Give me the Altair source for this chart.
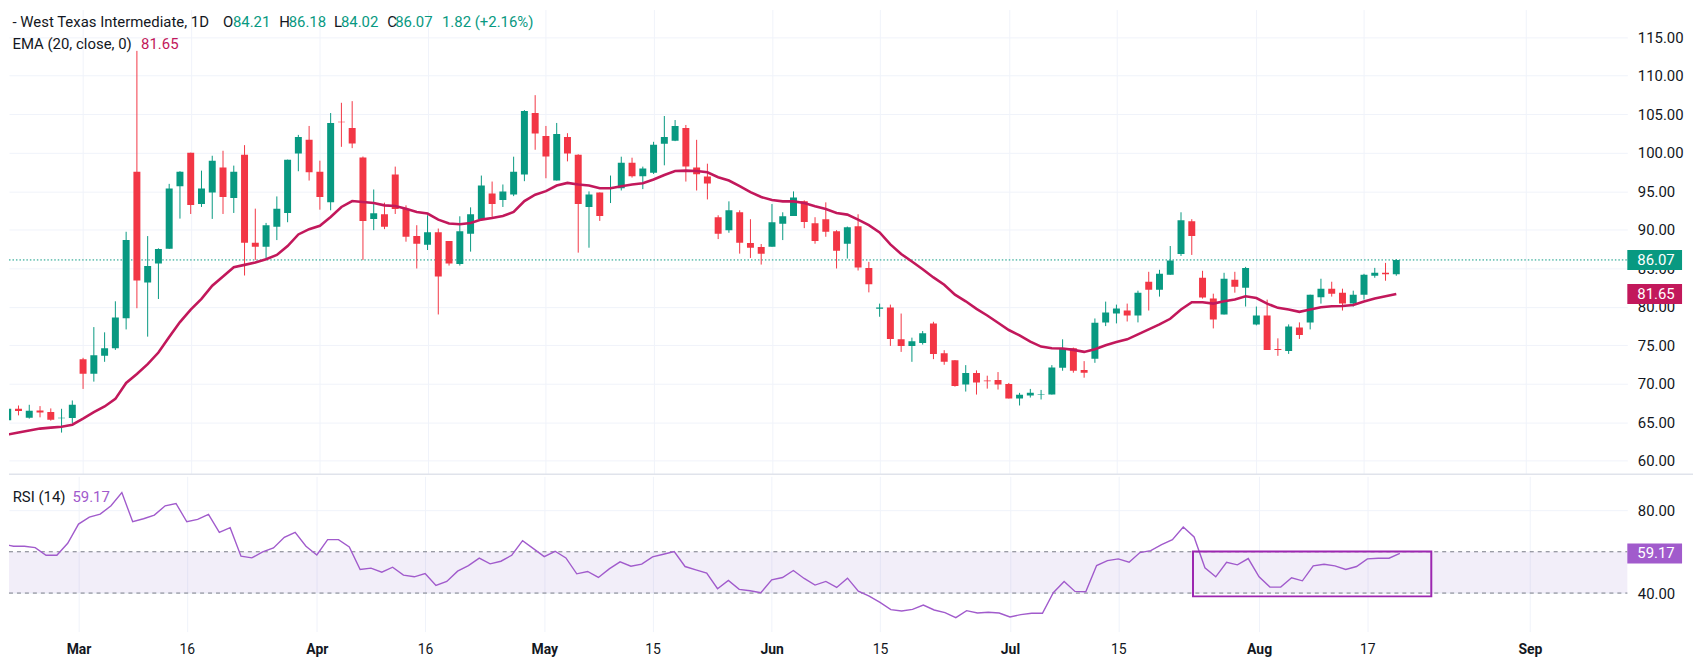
import altair as alt
import pandas as pd

# ---------------- data ----------------
opens = [65.24, 66.74, 65.58, 66.53, 66.31, 65.50, 65.54, 73.19, 71.30, 73.62,
         74.60, 78.51, 97.54, 83.15, 85.60, 87.53, 95.65, 99.99, 93.33, 94.84,
         98.06, 94.11, 99.73, 88.31, 87.79, 90.37, 92.17, 99.91, 101.67, 97.54,
         93.55, 104.03, 103.21, 99.39, 91.40, 92.00, 97.16, 92.69, 89.17, 88.05,
         89.68, 88.52, 85.56, 89.47, 91.40, 94.71, 93.85, 94.58, 97.16, 105.15,
         102.18, 96.38, 102.05, 99.73, 92.95, 94.84, 95.31, 95.39, 98.70, 96.94,
         97.41, 101.15, 101.54, 103.21, 98.06, 96.90, 91.62, 89.94, 92.26, 88.26,
         87.75, 87.79, 90.76, 91.79, 93.68, 90.84, 91.36, 89.81, 88.18, 90.46,
         85.04, 79.72, 79.89, 75.76, 74.91, 75.29, 77.83, 73.96, 73.06, 69.88,
         71.38, 70.40, 70.49, 69.97, 68.08, 68.46, 68.55, 68.59, 72.07, 74.60,
         71.77, 73.23, 77.96, 79.11, 79.50, 78.86, 83.24, 82.21, 84.14, 86.85,
         91.10, 83.76, 81.05, 78.99, 83.50, 82.47, 77.70, 78.86, 74.52, 74.26,
         77.31, 77.96, 81.22, 82.34, 81.82, 80.40, 81.56, 84.01, 84.40, 84.21]
highs = [66.90, 67.17, 67.26, 67.09, 66.79, 66.74, 67.82, 73.36, 77.35, 76.67,
         80.70, 89.73, 113.22, 89.17, 87.58, 95.95, 97.60, 100.00, 97.67, 99.60,
         100.25, 98.32, 100.98, 92.73, 90.88, 94.32, 99.10, 102.31, 103.47, 98.96,
         105.15, 106.48, 106.69, 99.50, 95.22, 93.51, 98.19, 93.16, 90.58, 91.87,
         90.15, 88.52, 91.74, 92.90, 97.03, 96.25, 95.87, 99.48, 105.53, 107.47,
         103.47, 103.86, 102.53, 99.80, 94.97, 94.84, 97.03, 99.48, 99.35, 98.19,
         101.41, 104.76, 104.24, 103.60, 101.67, 98.57, 91.87, 93.68, 92.52, 91.36,
         88.14, 93.33, 92.26, 94.97, 93.81, 91.62, 93.55, 89.94, 90.41, 92.00,
         85.82, 80.40, 80.27, 79.11, 75.98, 76.84, 78.04, 74.35, 73.06, 72.41,
         71.73, 71.04, 71.51, 70.10, 68.81, 69.32, 69.19, 72.41, 75.76, 74.69,
         72.93, 78.47, 80.66, 80.27, 80.40, 82.08, 84.53, 84.79, 87.88, 92.26,
         91.36, 84.66, 81.69, 84.40, 84.53, 85.17, 80.02, 80.92, 75.89, 77.70,
         77.96, 81.56, 83.63, 83.24, 82.34, 82.08, 84.27, 85.04, 85.69, 86.18]
lows = [65.10, 65.89, 65.46, 65.63, 65.20, 63.65, 64.90, 69.32, 70.27, 72.84,
        74.39, 77.05, 79.80, 76.11, 81.00, 87.50, 91.44, 92.04, 92.95, 91.40,
        92.04, 92.17, 84.05, 86.07, 86.16, 88.65, 90.97, 97.59, 96.38, 92.60,
        92.52, 100.76, 100.59, 86.07, 89.94, 90.07, 92.04, 88.44, 84.96, 87.36,
        78.99, 85.34, 85.34, 87.15, 91.23, 91.57, 92.95, 94.36, 96.30, 100.38,
        96.68, 96.38, 98.87, 87.02, 87.66, 91.14, 93.46, 95.09, 96.77, 95.27,
        97.24, 98.36, 101.50, 96.25, 95.09, 93.93, 88.78, 89.60, 86.89, 86.33,
        85.47, 87.79, 88.65, 91.79, 90.20, 88.18, 89.08, 84.96, 86.25, 84.70,
        81.86, 78.69, 74.91, 74.13, 72.84, 75.08, 73.19, 72.46, 69.62, 68.98,
        68.59, 69.36, 69.24, 68.08, 67.17, 68.20, 67.95, 68.59, 71.68, 71.43,
        70.78, 72.71, 77.48, 77.83, 78.08, 77.96, 79.50, 81.31, 84.14, 86.59,
        86.72, 81.05, 77.18, 78.99, 81.82, 80.02, 77.57, 74.39, 73.62, 73.87,
        75.81, 77.05, 80.40, 81.31, 79.50, 80.02, 80.92, 83.76, 83.37, 84.02]
closes = [66.74, 66.44, 66.49, 66.27, 65.33, 65.58, 67.26, 71.30, 73.70, 74.60,
          78.60, 88.65, 83.41, 85.30, 87.49, 95.35, 97.54, 93.20, 95.35, 98.96,
          94.24, 97.54, 88.31, 87.79, 90.58, 92.73, 99.09, 102.05, 97.46, 94.24,
          103.86, 103.94, 101.19, 91.14, 92.13, 90.37, 92.69, 89.08, 88.18, 89.68,
          83.93, 85.60, 89.81, 92.00, 95.74, 93.33, 94.97, 97.54, 105.40, 102.48,
          99.52, 102.44, 99.91, 93.33, 94.58, 91.79, 95.44, 98.70, 96.94, 97.93,
          101.02, 102.05, 103.47, 98.19, 97.20, 96.00, 89.47, 92.52, 88.31, 87.66,
          86.89, 90.97, 91.74, 94.19, 91.01, 88.52, 89.73, 87.28, 90.33, 85.09,
          82.90, 79.89, 75.81, 74.91, 75.51, 76.54, 73.87, 72.84, 69.71, 71.38,
          70.14, 70.31, 69.88, 68.08, 68.55, 68.81, 68.63, 72.11, 74.60, 71.68,
          71.43, 77.91, 79.24, 79.76, 78.86, 81.82, 82.21, 84.27, 85.99, 91.23,
          89.17, 81.18, 78.34, 83.63, 82.60, 85.04, 78.86, 74.39, 74.39, 77.44,
          76.32, 81.56, 82.34, 81.69, 80.40, 81.56, 84.14, 84.40, 84.21, 86.07]
ema20 = [63.39, 63.65, 63.91, 64.17, 64.30, 64.42, 64.68, 65.46, 66.31, 67.04,
         68.03, 70.09, 71.25, 72.54, 74.05, 76.07, 78.00, 79.63, 81.01, 82.72,
         83.93, 85.13, 85.43, 85.73, 86.16, 86.72, 87.88, 89.38, 90.07, 90.50,
         91.66, 92.95, 93.72, 93.59, 93.46, 93.16, 93.08, 92.73, 92.30, 92.09,
         91.31, 90.80, 90.71, 90.88, 91.31, 91.53, 91.79, 92.30, 93.72, 94.54,
         95.01, 95.74, 96.08, 95.87, 95.74, 95.39, 95.39, 95.65, 95.87, 96.04,
         96.51, 97.11, 97.63, 97.67, 97.63, 97.45, 96.81, 96.38, 95.65, 94.88,
         94.24, 93.85, 93.68, 93.68, 93.46, 93.03, 92.69, 92.17, 91.96, 91.31,
         90.58, 89.64, 88.09, 86.85, 85.86, 84.87, 83.80, 82.85, 81.56, 80.70,
         79.72, 78.86, 77.91, 76.97, 76.28, 75.46, 74.82, 74.60, 74.58, 74.39,
         74.13, 74.48, 74.99, 75.42, 75.76, 76.41, 77.05, 77.70, 78.43, 79.63,
         80.58, 80.58, 80.40, 80.70, 80.92, 81.35, 81.13, 80.40, 79.85, 79.63,
         79.33, 79.63, 79.93, 80.06, 80.10, 80.23, 80.66, 81.05, 81.35, 81.65]
rsi14 = [63.78, 62.65, 62.65, 62.00, 58.31, 58.31, 64.10, 73.41, 76.79, 78.23,
         82.25, 88.67, 74.54, 75.98, 77.75, 82.25, 83.37, 74.54, 75.66, 78.07,
         69.40, 71.65, 57.83, 57.03, 59.92, 61.85, 66.99, 69.40, 62.65, 58.47,
         65.86, 65.86, 62.33, 51.41, 52.05, 50.12, 52.53, 48.67, 47.87, 49.48,
         43.69, 45.62, 50.60, 53.30, 56.90, 54.14, 55.42, 58.31, 65.38, 61.53,
         57.67, 60.24, 57.03, 49.32, 50.44, 47.55, 51.73, 55.10, 53.01, 53.98,
         57.51, 58.80, 60.08, 52.85, 51.24, 49.64, 42.09, 46.10, 41.77, 41.12,
         40.16, 46.43, 47.55, 50.92, 47.07, 43.86, 45.62, 42.73, 47.23, 40.96,
         38.55, 35.50, 31.97, 31.33, 32.13, 34.22, 31.81, 30.50, 28.11, 31.49,
         30.36, 30.68, 30.36, 28.43, 29.56, 30.20, 30.20, 40.16, 45.62, 40.80,
         40.64, 53.33, 55.74, 56.55, 54.94, 59.60, 60.56, 63.45, 65.86, 71.97,
         67.15, 52.21, 47.87, 54.94, 53.65, 56.71, 47.87, 42.89, 42.89, 47.39,
         45.94, 53.17, 53.98, 53.17, 51.41, 52.85, 56.55, 56.87, 56.87, 59.17]

tick_idx = [8, 18, 30, 40, 51, 61, 72, 82, 94, 104, 117, 127, 142]
tick_lbl = ["Mar", "16", "Apr", "16", "May", "15", "Jun", "15", "Jul", "15", "Aug", "17", "Sep"]
month_idx = [8, 30, 51, 72, 94, 117, 142]
price_ticks = [60, 65, 70, 75, 80, 85, 90, 95, 100, 105, 110, 115]
rsi_ticks = [40, 80]
rsi_levels = [40, 60]
box_x = [110.9, 132.9]
box_y = [38.4, 60.1]

# ---------------- styling ----------------
FONT = "Roboto"
TXT = "#131722"
GREEN = "#089981"
RED = "#f23645"
EMA_C = "#c2185b"
RSI_C = "#a15bcc"
BOX_C = "#9c27b0"
GRID = "#f0f3fa"
W, H1, H2 = 1626, 467, 156
AX_FS = 15
HD_FS = 15

df = pd.DataFrame({"i": list(range(1, len(closes) + 1)), "o": opens, "h": highs,
                   "l": lows, "c": closes, "ema": ema20, "rsi": rsi14})

xscale = alt.Scale(domain=[1.58, 151.0], nice=False, zero=False)
yscale = alt.Scale(domain=[58.23, 118.59], nice=False, zero=False)
rscale = alt.Scale(domain=[21.35, 96.53], nice=False, zero=False)

xaxis_main = alt.Axis(values=tick_idx, labels=False, ticks=False, domain=False,
                      grid=True, gridColor=GRID, title=None)
label_expr = " : ".join([f"datum.value == {v} ? '{t}'" for v, t in zip(tick_idx, tick_lbl)]) + " : ''"
xaxis_rsi = alt.Axis(values=tick_idx, labelExpr=label_expr, ticks=False, domain=False,
                     grid=True, gridColor=GRID, title=None, labelFont=FONT, labelFontSize=14,
                     labelColor=TXT, labelPadding=11, labelFlush=False,
                     labelFontWeight={"condition": {"test": f"indexof({month_idx}, datum.value) >= 0",
                                                    "value": "bold"}, "value": "normal"})
yaxis_main = alt.Axis(orient="right", values=price_ticks, format=".2f", grid=True, gridColor=GRID,
                      domain=False, ticks=False, labelPadding=10, labelFont=FONT, labelFontSize=AX_FS,
                      labelColor=TXT, title=None, labelOverlap=False)
yaxis_rsi = alt.Axis(orient="right", values=rsi_ticks, format=".2f", grid=True, gridColor=GRID,
                     domain=False, ticks=False, labelPadding=10, labelFont=FONT, labelFontSize=AX_FS,
                     labelColor=TXT, title=None, labelOverlap=False)

up = "datum.c >= datum.o"


def txt(s, px, py, color, size=HD_FS):
    return alt.Chart(pd.DataFrame({"t": [s]})).mark_text(
        align="left", baseline="middle", font=FONT, fontSize=size, color=color
    ).encode(text="t:N", x=alt.value(px), y=alt.value(py))


X = alt.X("i:Q", scale=xscale, axis=xaxis_main)
base = alt.Chart(df)

wicks = base.mark_rule(strokeWidth=1, clip=True).encode(
    x=X, y=alt.Y("l:Q", scale=yscale, axis=yaxis_main), y2="h:Q",
    color=alt.condition(up, alt.value(GREEN), alt.value(RED)))
bodies = base.mark_bar(size=7, clip=True).encode(
    x=X, y=alt.Y("o:Q", scale=yscale, axis=yaxis_main), y2="c:Q",
    color=alt.condition(up, alt.value(GREEN), alt.value(RED)))
ema_line = base.mark_line(color=EMA_C, strokeWidth=2.6, clip=True).encode(
    x=X, y=alt.Y("ema:Q", scale=yscale, axis=yaxis_main))

last_df = pd.DataFrame({"v": [closes[-1]]})
ema_df = pd.DataFrame({"v": [ema20[-1]]})
dotted = alt.Chart(last_df).mark_rule(color=GREEN, strokeWidth=1, strokeDash=[1.5, 2]).encode(
    y=alt.Y("v:Q", scale=yscale, axis=yaxis_main), x=alt.value(0), x2=alt.value(W))


def value_box(d, color, scale, axis):
    r = alt.Chart(d).mark_rule(color=color, strokeWidth=20, strokeCap="butt").encode(
        y=alt.Y("v:Q", scale=scale, axis=axis), x=alt.value(W), x2=alt.value(W + 55))
    t = alt.Chart(d).mark_text(align="left", baseline="middle", font=FONT, fontSize=AX_FS,
                               color="white").encode(
        y=alt.Y("v:Q", scale=scale, axis=axis), x=alt.value(W + 10), text=alt.Text("v:Q", format=".2f"))
    return r + t


sep = alt.Chart(last_df).mark_rule(color="#e0e3eb", strokeWidth=1.5).encode(
    y=alt.value(H1), x=alt.value(0), x2=alt.value(1692))

o, h, l, c = opens[-1], highs[-1], lows[-1], closes[-1]
Y1, Y2 = 12.7, 34.7
header = (txt("- West Texas Intermediate, 1D", 3.5, Y1, TXT)
          + txt("O", 215, Y1, TXT) + txt(f"{o:.2f}", 225, Y1, GREEN)
          + txt("H", 271.5, Y1, TXT) + txt(f"{h:.2f}", 281, Y1, GREEN)
          + txt("L", 326.6, Y1, TXT) + txt(f"{l:.2f}", 333.5, Y1, GREEN)
          + txt("C", 380, Y1, TXT) + txt(f"{c:.2f}", 388, Y1, GREEN)
          + txt("1.82 (+2.16%)", 435, Y1, GREEN)
          + txt("EMA (20, close, 0)", 3.5, Y2, TXT) + txt(f"{ema20[-1]:.2f}", 132.7, Y2, EMA_C))

main = alt.layer(dotted, wicks, bodies, ema_line,
                 value_box(last_df, GREEN, yscale, yaxis_main),
                 value_box(ema_df, EMA_C, yscale, yaxis_main),
                 header, sep).properties(width=W, height=H1)

# ---------------- RSI panel ----------------
XR = alt.X("i:Q", scale=xscale, axis=xaxis_rsi)
band_df = pd.DataFrame({"lo": [rsi_levels[0]], "hi": [rsi_levels[1]]})
lvl_df = pd.DataFrame({"v": rsi_levels})
box_df = pd.DataFrame({"x0": [box_x[0]], "x1": [box_x[1]], "y0": [box_y[0]], "y1": [box_y[1]]})
rsi_last = pd.DataFrame({"v": [rsi14[-1]]})

band = alt.Chart(band_df).mark_rect(color="#7e57c2", opacity=0.1).encode(
    y=alt.Y("hi:Q", scale=rscale, axis=yaxis_rsi), y2="lo:Q", x=alt.value(0), x2=alt.value(W))
levels = alt.Chart(lvl_df).mark_rule(color="#787b86", strokeWidth=1, strokeDash=[4, 4]).encode(
    y=alt.Y("v:Q", scale=rscale, axis=yaxis_rsi), x=alt.value(0), x2=alt.value(W))
rsi_line = base.mark_line(color=RSI_C, strokeWidth=1.4, clip=True).encode(
    x=XR, y=alt.Y("rsi:Q", scale=rscale, axis=yaxis_rsi))
hbox = alt.Chart(box_df).mark_rect(fillOpacity=0, stroke=BOX_C, strokeWidth=2).encode(
    x=alt.X("x0:Q", scale=xscale, axis=xaxis_rsi), x2="x1:Q",
    y=alt.Y("y0:Q", scale=rscale, axis=yaxis_rsi), y2="y1:Q")
rsi_hdr = txt("RSI (14)", 3.7, 21.3, TXT) + txt(f"{rsi14[-1]:.2f}", 63.7, 21.3, RSI_C)

rsi = alt.layer(band, levels, rsi_line, hbox, value_box(rsi_last, RSI_C, rscale, yaxis_rsi),
                rsi_hdr).properties(width=W, height=H2)

chart = alt.vconcat(main, rsi, spacing=1).properties(padding=0, background="white").configure_view(stroke=None)

chart.save("out.html", embed_options={"renderer": "svg", "actions": False})
